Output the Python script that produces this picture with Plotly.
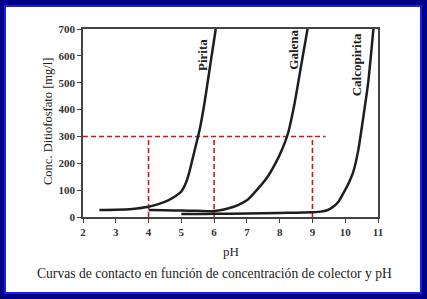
import plotly.graph_objects as go

# --- data ---
pirita_ph = [2.5, 3.0, 3.5, 4.0, 4.3, 4.6, 4.85, 5.0, 5.15, 5.25, 5.35, 5.45, 5.55, 5.7, 5.85, 5.95, 6.05]
pirita_conc = [26, 27, 30, 38, 48, 62, 80, 95, 130, 170, 220, 270, 320, 420, 540, 620, 700]

galena_ph = [4.0, 4.5, 5.0, 5.5, 6.0, 6.3, 6.6, 7.0, 7.3, 7.6, 7.85, 8.05, 8.25, 8.45, 8.65, 8.85]
galena_conc = [26, 25, 24, 23, 22, 28, 38, 62, 100, 144, 195, 245, 310, 420, 560, 700]

calco_ph = [5.0, 5.5, 6.0, 7.0, 8.0, 8.5, 9.0, 9.25, 9.45, 9.6, 9.8, 9.95, 10.1, 10.25, 10.4, 10.55, 10.7, 10.86]
calco_conc = [11, 11, 12, 13, 15, 16, 18, 20, 25, 35, 58, 90, 125, 170, 250, 370, 500, 700]

ref_ph = [4, 6, 9]
ref_conc = 300
ref_line_end = 9.4

labels = ["Pirita", "Galena", "Calcopirita"]
label_ph = [5.63, 8.43, 10.37]
label_conc = [603, 622, 566]

x_ticks = list(range(2, 12))
y_ticks = list(range(0, 800, 100))

serif = "Liberation Serif, Times New Roman, serif"
W, H = 427, 299
L, R, T, B = 83, 49, 29, 82

fig = go.Figure()

# reference dashed lines
fig.add_trace(go.Scatter(x=[2, ref_line_end], y=[ref_conc, ref_conc], mode="lines",
                         line=dict(color="#d41515", width=1.6, dash="5px,3px"), hoverinfo="skip"))
for p in ref_ph:
    fig.add_trace(go.Scatter(x=[p, p], y=[0, ref_conc], mode="lines",
                             line=dict(color="#d41515", width=1.6, dash="5px,3px"), hoverinfo="skip"))

for xs, ys in [(pirita_ph, pirita_conc), (galena_ph, galena_conc), (calco_ph, calco_conc)]:
    fig.add_trace(go.Scatter(x=xs, y=ys, mode="lines",
                             line=dict(color="#1e1e1e", width=2.5, shape="spline", smoothing=0.6)))

for name, px, py in zip(labels, label_ph, label_conc):
    fig.add_annotation(x=px, y=py, text="<b>%s</b>" % name, showarrow=False, textangle=-90,
                       xanchor="center", yanchor="middle",
                       font=dict(family=serif, size=13, color="#222"))

pw = W - L - R
ph_ = H - T - B
# white panel with blue edge
fig.add_shape(type="rect", xref="paper", yref="paper", layer="below",
              x0=(5 - L) / pw, x1=(421 - L) / pw,
              y0=(H - B - 293) / ph_, y1=(H - B - 6) / ph_,
              fillcolor="white", line=dict(color="#1c1cf0", width=2))

fig.add_annotation(xref="paper", yref="paper", x=(230.5 - L) / pw, y=(H - B - 251) / ph_,
                   xanchor="center", yanchor="middle",
                   text="pH", showarrow=False, font=dict(family=serif, size=13, color="#222"))
fig.add_annotation(xref="paper", yref="paper", x=(214 - L) / pw, y=(H - B - 273) / ph_,
                   xanchor="center", yanchor="middle",
                   text="Curvas de contacto en función de concentración de colector y pH",
                   showarrow=False, font=dict(family=serif, size=13.6, color="#222"))
fig.add_annotation(xref="paper", yref="paper", x=(48 - L) / pw, y=(H - B - 122) / ph_,
                   xanchor="center", yanchor="middle",
                   text="Conc. Ditiofosfato [mg/l]", textangle=-90,
                   showarrow=False, font=dict(family=serif, size=12.5, color="#222"))

tick_font = dict(family=serif, size=11, color="#333", weight="bold")
fig.update_xaxes(range=[2, 11], tickvals=x_ticks, showgrid=False, zeroline=False,
                 showline=True, mirror=True, linecolor="#444", linewidth=1.5,
                 ticks="outside", ticklen=4, tickcolor="#444", tickfont=tick_font)
fig.update_yaxes(range=[0, 700], tickvals=y_ticks, showgrid=False, zeroline=False,
                 showline=True, mirror=True, linecolor="#444", linewidth=1.5,
                 ticks="outside", ticklen=4, tickcolor="#444", tickfont=tick_font)

fig.update_layout(width=W, height=H, margin=dict(l=L, r=R, t=T, b=B),
                  paper_bgcolor="#000085", plot_bgcolor="white", showlegend=False)

fig.write_html("out.html")
